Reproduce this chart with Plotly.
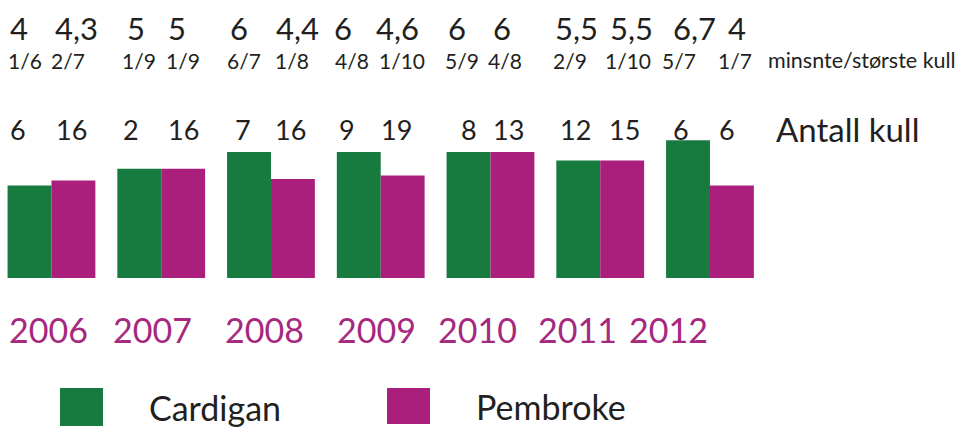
import plotly.graph_objects as go

# ---------------- data ----------------
years = ["2006", "2007", "2008", "2009", "2010", "2011", "2012"]
cardigan_avg = [4, 5, 6, 6, 6, 5.5, 6.7]
pembroke_avg = [4.3, 5, 4.4, 4.6, 6, 5.5, 4]
cardigan_minmax = ["1/6", "1/9", "6/7", "4/8", "5/9", "2/9", "5/7"]
pembroke_minmax = ["2/7", "1/9", "1/8", "1/10", "4/8", "1/10", "1/7"]
cardigan_litters = [6, 2, 7, 9, 8, 12, 6]
pembroke_litters = [16, 16, 16, 19, 13, 15, 6]
series_names = ["Cardigan", "Pembroke"]

# ---------------- style ----------------
W, H = 959, 430
GREEN = "#177b3f"
MAGENTA = "#ab1f7c"
YEAR_COLOR = "#a6287f"
TEXT = "#231f20"
FONT = "Lato"
X_RANGE = [-0.469, 8.269]
Y_RANGE = [-10.55, 15.05]
BASE = -1.5
OFF = 0.2  # half of a bar group, in category units

# fine pixel nudges of labels (hand-set layout of the original)
avg_shift = [[-10.5, -3.3, -10, -16, -11.5, -1.3, 6], [3.5, -6, 5, -4.7, -10.5, 9, 5]]
mm_shift = [[-4.5, 0, -5, -7, -6.5, -8, -9], [-5.5, 0, -1, -1, -7.5, 6, 3]]
cnt_shift = [[-11.5, -8, -6, -12, 0, -3, -7], [-1.5, 0, -2, -6, -3.5, 2, -5]]
year_shift = [-2.5, -9, -6, -4, -12.5, -23, -41]


def py(px):
    return 1 - px / H


idx = list(range(len(years)))

fig = go.Figure()
for name, vals, col in [(series_names[0], cardigan_avg, GREEN), (series_names[1], pembroke_avg, MAGENTA)]:
    fig.add_trace(go.Bar(x=idx, y=[v - BASE for v in vals], base=BASE, name=name,
                         customdata=years,
                         marker=dict(color=col, line=dict(width=0)), showlegend=False,
                         hoverinfo="skip"))

ann = []
avgs = [cardigan_avg, pembroke_avg]
mms = [cardigan_minmax, pembroke_minmax]
cnts = [cardigan_litters, pembroke_litters]
for s in range(2):
    side = -1 if s == 0 else 1
    for i in idx:
        xpos = i + side * OFF
        ann.append(dict(x=xpos, xref="x", y=py(27.5), yref="paper", xanchor="center", yanchor="middle",
                        xshift=avg_shift[s][i], borderpad=0,
                        text=f"{avgs[s][i]:g}".replace(".", ","), showarrow=False,
                        font=dict(family=FONT, size=31, color=TEXT)))
        ann.append(dict(x=xpos, xref="x", y=py(60), yref="paper", xanchor="center", yanchor="middle",
                        xshift=mm_shift[s][i], borderpad=0,
                        text=mms[s][i], showarrow=False,
                        font=dict(family=FONT, size=21, color=TEXT)))
        ann.append(dict(x=xpos, xref="x", y=py(129), yref="paper", xanchor="center", yanchor="middle",
                        xshift=cnt_shift[s][i], borderpad=0,
                        text=str(cnts[s][i]), showarrow=False,
                        font=dict(family=FONT, size=27, color=TEXT)))

for i, yr in enumerate(years):
    ann.append(dict(x=i, xref="x", y=py(329), yref="paper", xanchor="center", yanchor="middle",
                    xshift=year_shift[i], text=yr, showarrow=False, borderpad=0,
                    font=dict(family=FONT, size=34, color=YEAR_COLOR)))

ann.append(dict(x=767 / W, xref="paper", y=py(60), yref="paper", xanchor="left", yanchor="middle",
                text="minsnte/største kull", showarrow=False, borderpad=0,
                font=dict(family=FONT, size=21.5, color=TEXT)))
ann.append(dict(x=775 / W, xref="paper", y=py(129), yref="paper", xanchor="left", yanchor="middle",
                text="Antall kull", showarrow=False, borderpad=0,
                font=dict(family=FONT, size=33, color=TEXT)))

# legend
shapes = [
    dict(type="rect", xref="paper", yref="paper", x0=60 / W, x1=103 / W, y0=py(426), y1=py(388),
         fillcolor=GREEN, line=dict(width=0)),
    dict(type="rect", xref="paper", yref="paper", x0=387 / W, x1=430 / W, y0=py(424), y1=py(388),
         fillcolor=MAGENTA, line=dict(width=0)),
]
ann.append(dict(x=148 / W, xref="paper", y=py(407), yref="paper", xanchor="left", yanchor="middle",
                text=series_names[0], showarrow=False, borderpad=0,
                font=dict(family=FONT, size=34, color=TEXT)))
ann.append(dict(x=475 / W, xref="paper", y=py(406), yref="paper", xanchor="left", yanchor="middle",
                text=series_names[1], showarrow=False, borderpad=0,
                font=dict(family=FONT, size=34, color=TEXT)))

fig.update_layout(
    width=W, height=H, margin=dict(l=0, r=0, t=0, b=0),
    paper_bgcolor="white", plot_bgcolor="white",
    barmode="group", bargap=0.2, bargroupgap=0,
    xaxis=dict(visible=False, range=X_RANGE),
    yaxis=dict(visible=False, range=Y_RANGE),
    annotations=ann, shapes=shapes, showlegend=False,
)
fig.write_html("out.html", config={"displayModeBar": False},
               post_script="document.body.style.margin='0';document.body.style.overflow='hidden';")
